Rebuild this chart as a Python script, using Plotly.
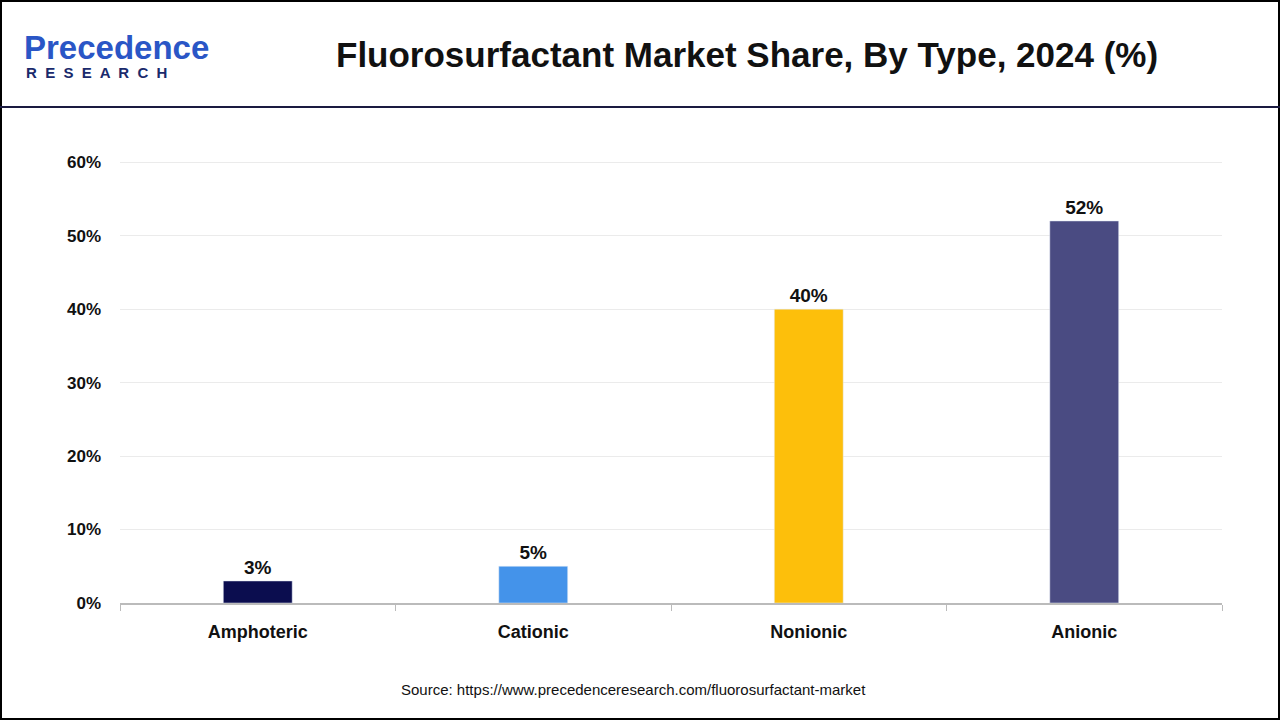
import plotly.graph_objects as go

categories = ["Amphoteric", "Cationic", "Nonionic", "Anionic"]
values = [3, 5, 40, 52]
colors = ["#0b0d4f", "#4493ea", "#fdbf0b", "#4a4b82"]
tick_vals = [0, 10, 20, 30, 40, 50, 60]
tick_text = [f"<b>{v}%</b>" for v in tick_vals]

fig = go.Figure(go.Bar(
    x=categories, y=values, marker_color=colors, width=0.25,
    text=[f"{v}%" for v in values], texttemplate="<b>%{text}</b>", textposition="outside",
    textfont=dict(family="Arial, Liberation Sans", size=19, color="#111"),
    cliponaxis=False,
))
fig.update_layout(
    width=1280, height=720, paper_bgcolor="white", plot_bgcolor="white",
    margin=dict(l=120, r=58, t=160, b=117),
    showlegend=False,
    font=dict(family="Arial, Liberation Sans", color="#111"),
    yaxis=dict(range=[0, 60.3], tickvals=tick_vals, ticktext=tick_text,
               showgrid=True, gridcolor="#ebebeb", zeroline=False,
               tickfont=dict(size=17, color="#111"), ticks="", ticklen=0,
               ticklabelstandoff=18),
    xaxis=dict(showline=True, linecolor="#bbbbbb", linewidth=1.5,
               ticks="outside", tickcolor="#bbbbbb", ticklen=6,
               tickson="boundaries", tickvals=categories,
               ticktext=[f"<b>{c}</b>" for c in categories],
               tickfont=dict(size=18, color="#111"), ticklabelstandoff=12),
    shapes=[
        dict(type="rect", xref="paper", yref="paper", x0=-119/1102, x1=1+57/1102,
             y0=-116/443, y1=1+159/443, line=dict(color="black", width=2)),
        dict(type="line", xref="paper", yref="paper", x0=-120/1102, x1=1+58/1102,
             y0=(603-107)/443, y1=(603-107)/443, line=dict(color="#1a1a40", width=2)),
    ],
    annotations=[
        dict(text="<b>Fluorosurfactant Market Share, By Type, 2024 (%)</b>",
             xref="paper", yref="paper", x=(747-120)/1102, y=(603-55)/443,
             showarrow=False, font=dict(size=35, color="#111"), xanchor="center", yanchor="middle"),
        dict(text="<b>Precedence</b>", xref="paper", yref="paper",
             x=(22-120)/1102, y=(603-47)/443, showarrow=False, xanchor="left", yanchor="middle",
             font=dict(size=33, color="#2a56c6", family="Arial, Liberation Sans")),
        dict(text="<b>R  E  S  E  A  R  C  H</b>", xref="paper", yref="paper",
             x=(24-120)/1102, y=(603-72)/443, showarrow=False, xanchor="left", yanchor="middle",
             font=dict(size=15, color="#1a2a6c")),
        dict(text="Source: https://www.precedenceresearch.com/fluorosurfactant-market",
             xref="paper", yref="paper", x=(633-120)/1102, y=(603-689)/443,
             showarrow=False, font=dict(size=15, color="#111"), xanchor="center", yanchor="middle"),
    ],
)
fig.write_html("out.html", config={"displayModeBar": False},
               post_script="document.body.style.margin='0';document.body.style.overflow='hidden';")
